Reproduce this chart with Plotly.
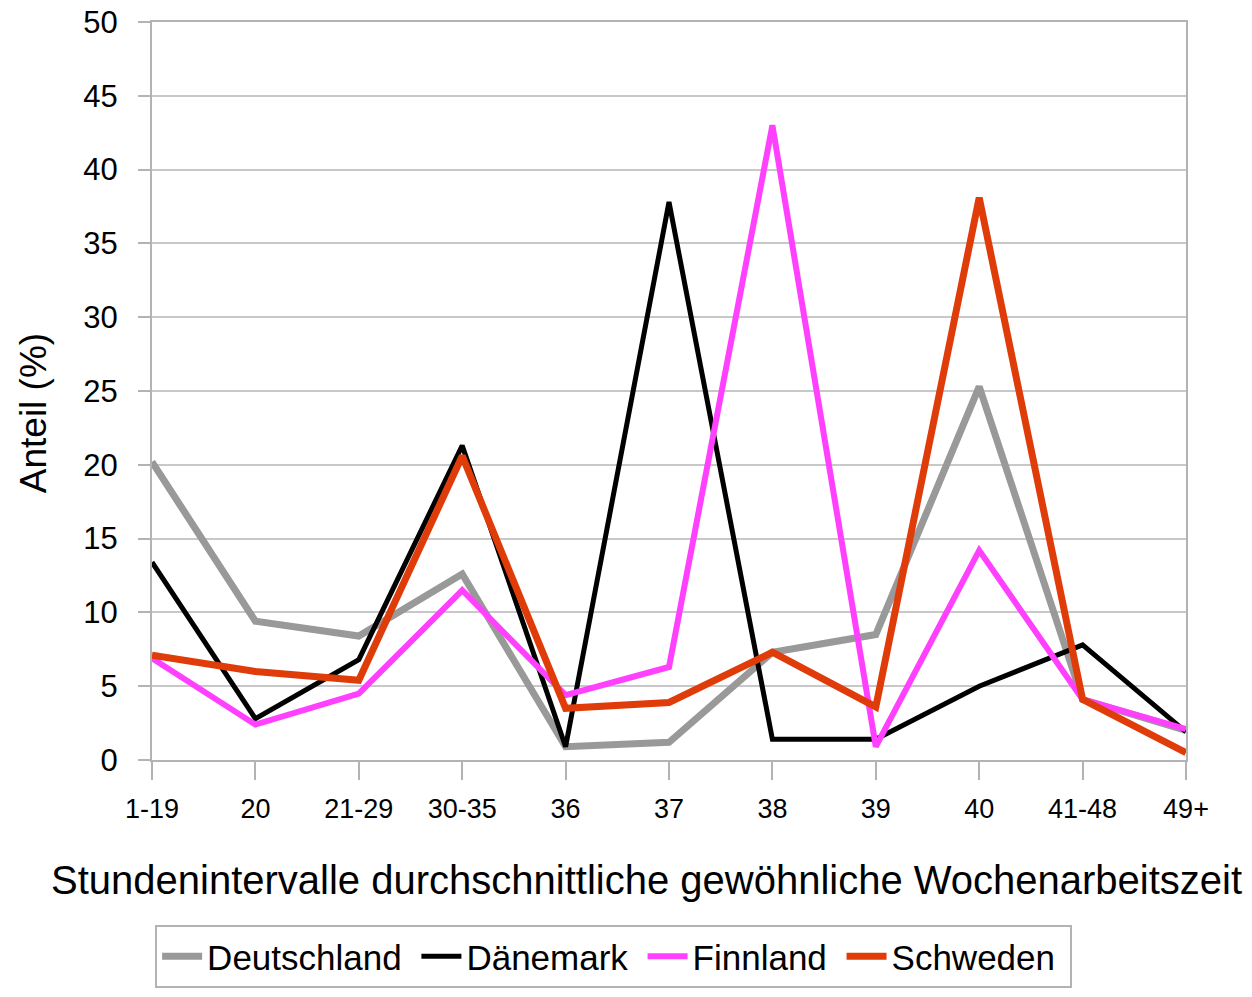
import plotly.graph_objects as go

categories = ["1-19", "20", "21-29", "30-35", "36", "37", "38", "39", "40", "41-48", "49+"]

deutschland = [20.2, 9.4, 8.4, 12.6, 0.9, 1.2, 7.3, 8.5, 25.3, 4.1, 2.0]
daenemark = [13.4, 2.8, 6.8, 21.3, 0.9, 37.8, 1.4, 1.4, 5.0, 7.8, 1.9]
finnland = [6.9, 2.4, 4.5, 11.5, 4.4, 6.3, 43.0, 0.9, 14.2, 4.1, 2.1]
schweden = [7.1, 6.0, 5.4, 20.6, 3.5, 3.9, 7.3, 3.6, 38.1, 4.1, 0.5]

series = [
    ("Deutschland", deutschland, "#999999", 7),
    ("Dänemark", daenemark, "#000000", 5),
    ("Finnland", finnland, "#ff40ff", 6),
    ("Schweden", schweden, "#e03c0a", 7),
]

fig = go.Figure()
for name, vals, color, width in series:
    fig.add_scatter(
        x=categories,
        y=vals,
        mode="lines",
        name=name + "\u00a0",  # a bit of extra room between legend items
        line=dict(color=color, width=width),
    )

font_main = "Liberation Sans, Arial, sans-serif"

fig.update_layout(
    width=1252,
    height=997,
    margin=dict(l=152, r=66, t=22, b=237, autoexpand=False),
    paper_bgcolor="#ffffff",
    plot_bgcolor="#ffffff",
    font=dict(family=font_main, color="#000000"),
    showlegend=True,
    legend=dict(
        orientation="h",
        x=0.003,
        xanchor="left",
        y=-0.2236,
        yanchor="top",
        bordercolor="#b3b3b3",
        borderwidth=2,
        font=dict(size=35, family=font_main),
        itemwidth=40,
        tracegroupgap=0,
    ),
)

fig.update_xaxes(
    type="category",
    range=[0, 10],
    automargin=False,
    showgrid=False,
    showline=True,
    mirror=True,
    linecolor="#b3b3b3",
    linewidth=2,
    ticks="outside",
    ticklen=18,
    tickcolor="#b3b3b3",
    tickwidth=2,
    ticklabelstandoff=6,
    ticklabeloverflow="allow",
    tickfont=dict(size=27, family=font_main),
    zeroline=False,
)

fig.update_yaxes(
    range=[0, 50],
    dtick=5,
    automargin=False,
    showgrid=True,
    gridcolor="#c8c8c8",
    gridwidth=2,
    showline=True,
    mirror=True,
    linecolor="#b3b3b3",
    linewidth=2,
    ticks="outside",
    ticklen=12,
    tickcolor="#b3b3b3",
    tickwidth=2,
    ticklabelstandoff=14,
    ticklabeloverflow="allow",
    tickfont=dict(size=31, family=font_main),
    zeroline=False,
)

fig.add_annotation(
    text="Stundenintervalle durchschnittliche gewöhnliche Wochenarbeitszeit",
    xref="paper", yref="paper",
    x=0.478, y=-0.163,
    xanchor="center", yanchor="middle",
    showarrow=False,
    font=dict(size=40, family=font_main),
)

fig.add_annotation(
    text="Anteil (%)",
    xref="paper", yref="paper",
    x=-0.115, y=0.47,
    xanchor="center", yanchor="middle",
    textangle=-90,
    showarrow=False,
    font=dict(size=37, family=font_main),
)

# drop the default 8px page margin so the figure fills the window exactly
fig.write_html(
    "out.html",
    config={"displayModeBar": False},
    post_script="document.body.style.margin='0';",
)
